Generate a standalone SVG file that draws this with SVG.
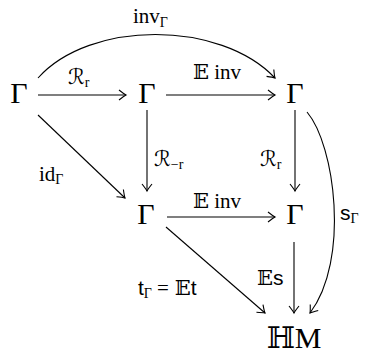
<svg xmlns="http://www.w3.org/2000/svg" width="368" height="354" viewBox="0 0 368 354">
<style>
.n{font-family:"Liberation Serif","DejaVu Serif","DejaVu Sans",serif;font-size:30px;fill:#000;text-anchor:middle}
.l{font-family:"Liberation Serif","DejaVu Serif","DejaVu Sans",serif;font-size:21px;fill:#000}
.sf{font-family:"Liberation Sans","DejaVu Sans",sans-serif}
.e{stroke:#000;stroke-width:1.1;fill:none;marker-end:url(#ah)}
</style>
<defs>
<marker id="ah" viewBox="-10 -6 12 12" markerWidth="12" markerHeight="12" refX="0" refY="0" orient="auto" markerUnits="userSpaceOnUse">
<path d="M-7,-5 Q-2,-1 0,0 Q-2,1 -7,5" fill="none" stroke="#000" stroke-width="1.1"/>
</marker>
</defs>
<g id="connectors">
<line class="e" x1="38" y1="95" x2="126" y2="95"/>
<line class="e" x1="166" y1="95" x2="275" y2="95"/>
<path class="e" d="M38,78 C90,20 220,20 275,78"/>
<line class="e" x1="147" y1="110" x2="147" y2="191"/>
<line class="e" x1="295" y1="110" x2="295" y2="191"/>
<line class="e" x1="38" y1="115" x2="125" y2="198"/>
<line class="e" x1="167" y1="217" x2="275" y2="217"/>
<path class="e" d="M307,112 C335,145 350,260 310,313"/>
<line class="e" x1="166" y1="227" x2="265" y2="313"/>
<line class="e" x1="294" y1="242" x2="294" y2="313"/>
</g>
<g id="A"><text class="n" x="19" y="103">Γ</text></g>
<g id="B"><text class="n" x="147" y="103">Γ</text></g>
<g id="C"><text class="n" x="295" y="103">Γ</text></g>
<g id="D"><text class="n" x="146" y="224">Γ</text></g>
<g id="E"><text class="n" x="295" y="224">Γ</text></g>
<g id="F"><text class="n" x="294" y="348">ℍM</text></g>
<g id="labels">
<text class="l" x="133" y="23">inv<tspan font-size="14" dy="4">Γ</tspan></text>
<text class="l" x="68" y="84">ℛ<tspan font-size="14" dy="3">r</tspan></text>
<text class="l" x="193" y="79">𝔼 inv</text>
<text class="l" x="154" y="166">ℛ<tspan font-size="14" dy="3">−r</tspan></text>
<text class="l" x="260" y="166">ℛ<tspan font-size="14" dy="3">r</tspan></text>
<text class="l" x="39" y="181">id<tspan font-size="14" dy="3">Γ</tspan></text>
<text class="l" x="193" y="208">𝔼 inv</text>
<text class="l" x="340" y="220"><tspan class="sf">s</tspan><tspan font-size="14" dy="3">Γ</tspan></text>
<text class="l" x="138" y="295"><tspan class="sf">t</tspan><tspan font-size="14" dy="3">Γ</tspan><tspan dy="-3" dx="5">=</tspan><tspan dx="6">𝔼</tspan><tspan class="sf">t</tspan></text>
<text class="l" x="257" y="285">𝔼<tspan class="sf">s</tspan></text>
</g>
</svg>
